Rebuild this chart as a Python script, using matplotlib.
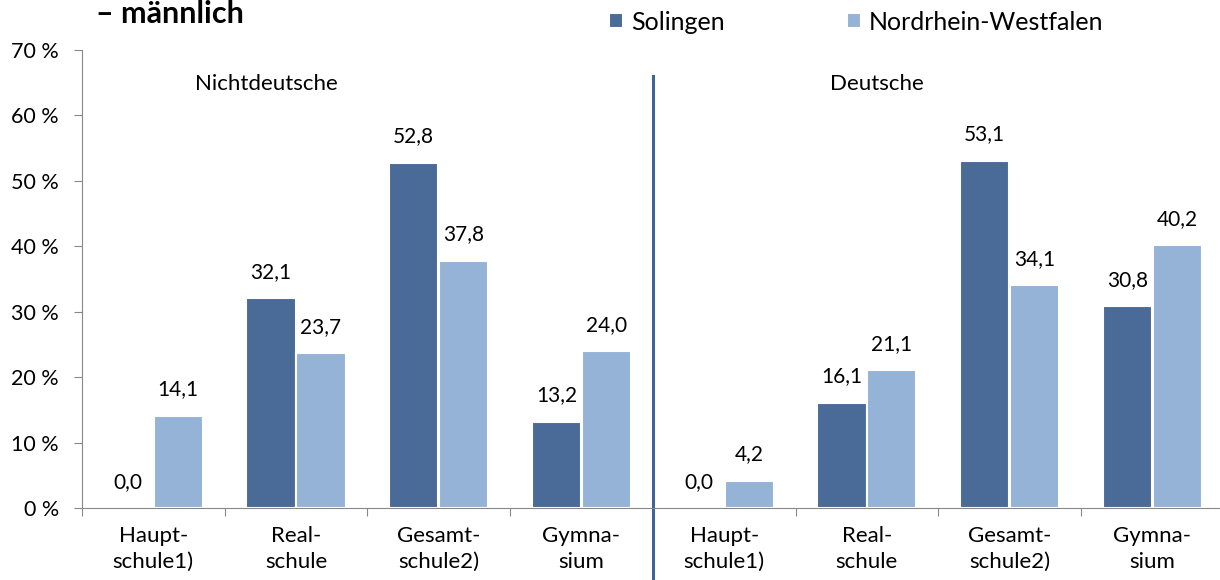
import numpy as np
import matplotlib.pyplot as plt

plt.rcParams['font.family'] = ['Lato', 'DejaVu Sans']

# Daten
schulformen = ["Haupt-\nschule1)", "Real-\nschule", "Gesamt-\nschule2)", "Gymna-\nsium"]
gruppen = ["Nichtdeutsche", "Deutsche"]
solingen_nd = [0.0, 32.1, 52.8, 13.2]
nrw_nd = [14.1, 23.7, 37.8, 24.0]
solingen_d = [0.0, 16.1, 53.1, 30.8]
nrw_d = [4.2, 21.1, 34.1, 40.2]
y_ticks = [0, 10, 20, 30, 40, 50, 60, 70]

dark = "#4A6B97"
light = "#95B3D7"

solingen = solingen_nd + solingen_d
nrw = nrw_nd + nrw_d
labels = schulformen + schulformen
x = np.arange(len(labels))
w = 0.345

fig = plt.figure(figsize=(12.2, 5.8), dpi=100)
ax = fig.add_axes([0.0672, 0.1241, 0.9358, 0.7897])

b1 = ax.bar(x - 0.175, solingen, w, color=dark, edgecolor="white", linewidth=1.5, label="Solingen")
b2 = ax.bar(x + 0.175, nrw, w, color=light, edgecolor="white", linewidth=1.5, label="Nordrhein-Westfalen")

def fmt(v):
    return f"{v:.1f}".replace(".", ",")

for bars, vals in ((b1, solingen), (b2, nrw)):
    for b, v in zip(bars, vals):
        ax.text(b.get_x() + b.get_width() / 2, v + 4.0, fmt(v),
                ha="center", va="center", fontsize=15)

ax.set_xlim(-0.5, 7.5)
ax.set_ylim(0, 70)
ax.set_yticks(y_ticks)
ax.set_yticklabels([f"{t} %" for t in y_ticks], fontsize=15.5)
ax.set_xticks(np.arange(-0.5, 8.0, 1.0))
ax.set_xticklabels([])
ax.set_xticks(x, minor=True)
ax.set_xticklabels(labels, minor=True, fontsize=16, linespacing=1.35)
ax.tick_params(axis="x", which="major", length=6, color="#888888")
ax.tick_params(axis="x", which="minor", length=0, pad=13)
ax.tick_params(axis="y", length=5.5, color="#888888", pad=11)

for s in ("top", "right"):
    ax.spines[s].set_visible(False)
ax.spines["left"].set_color("#888888")
ax.spines["bottom"].set_color("#888888")

# Trennlinie zwischen den Gruppen
ax.plot([3.5, 3.5], [-11.3, 66.1], color="#3F6597", linewidth=2.2, clip_on=False)

ax.text(0.79, 64.8, gruppen[0], ha="center", va="center", fontsize=16)
ax.text(5.07, 64.8, gruppen[1], ha="center", va="center", fontsize=16)

fig.text(0.0787, 0.9603, "– männlich", fontsize=22, fontweight="bold", va="baseline", ha="left")

fig.legend(handles=[b1, b2], loc="center left", bbox_to_anchor=(0.4992, 0.962), ncol=2,
           frameon=False, fontsize=18, handlelength=0.56, handleheight=0.56,
           handletextpad=0.32, columnspacing=4.9, borderpad=0, borderaxespad=0)

fig.savefig("out.png", dpi=100)
